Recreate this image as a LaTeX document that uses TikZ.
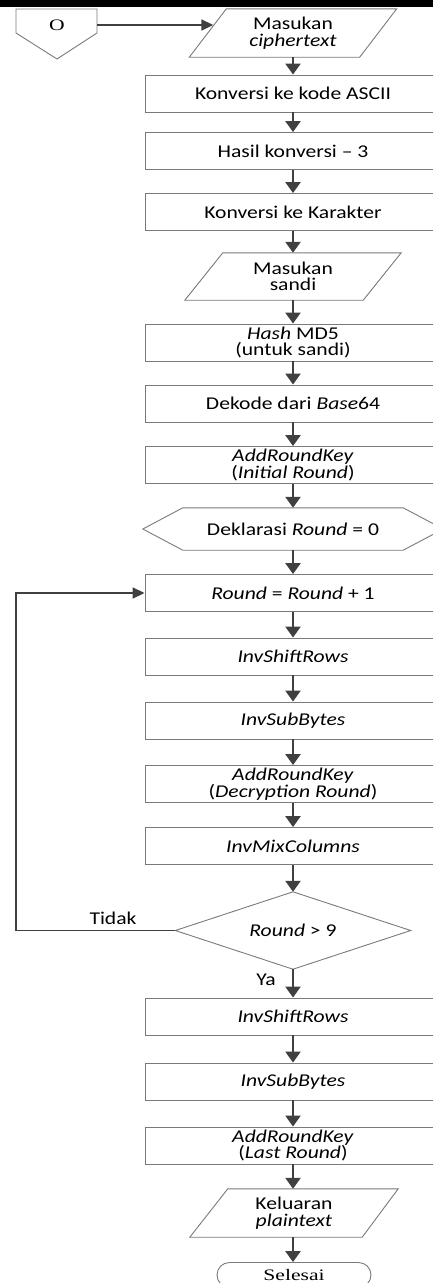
\documentclass[tikz,border=0pt]{standalone}
\usepackage{fontspec}
\setmainfont[FakeStretch=1.2]{Carlito}
\newfontfamily\tnrfont[FakeStretch=1.35]{Liberation Serif}
\usetikzlibrary{arrows.meta,shapes.misc}
\definecolor{bordc}{HTML}{7A7A7A}
\definecolor{arrc}{HTML}{404040}
\newcommand\figfont{\fontsize{18}{16.5}\selectfont}
\newcommand\serfont{\tnrfont\fontsize{16}{16}\selectfont}
\begin{document}
\begin{tikzpicture}[x=1pt,y=-1pt,
  box/.style={draw=bordc, line width=0.9pt, minimum width=296pt, minimum height=37pt, inner sep=0pt, align=center, font=\figfont, text=black},
  txt/.style={inner sep=0pt, align=center, font=\figfont, text=black},
  shp/.style={draw=bordc, line width=0.9pt},
  arr/.style={draw=arrc, line width=2.4pt, -{Triangle[width=15pt,length=11pt]}},
  thinarr/.style={draw=arrc, line width=1.7pt, -{Triangle[width=11pt,length=12pt]}},
]
\useasboundingbox (0,0) rectangle (433,1283);
\fill[black] (0,0) rectangle (433,7);

% off-page connector
\draw[shp] (16,9) -- (97,9) -- (97,33) -- (57,59) -- (16,33) -- cycle;
\node[inner sep=0pt, font=\serfont] (conn) at (57,25) {O};
\coordinate (connE) at (97,25);

% input ciphertext
\node[txt, minimum width=207pt, minimum height=48pt] (in1) at (293,33) {Masukan\\\textit{ciphertext}};
\draw[shp] (in1.south west) -- ([xshift=-37pt]in1.south east) -- (in1.north east) -- ([xshift=37pt]in1.north west) -- cycle;

\node[box] (b1) at (293,93.5) {Konversi ke kode ASCII};
\node[box] (b2) at (293,151) {Hasil konversi – 3};
\node[box] (b3) at (293,212) {Konversi ke Karakter};

\node[txt, minimum width=216pt, minimum height=47pt] (in2) at (293,276.5) {Masukan\\sandi};
\draw[shp] (in2.south west) -- ([xshift=-38pt]in2.south east) -- (in2.north east) -- ([xshift=38pt]in2.north west) -- cycle;

\node[box] (b4) at (293,342.5) {\textit{Hash} MD5\\(untuk sandi)};
\node[box] (b5) at (293,403.5) {Dekode dari \textit{Base}64};
\node[box] (b6) at (293,465) {\textit{AddRoundKey}\\(\textit{Initial Round})};

\node[txt, minimum width=300pt, minimum height=42pt] (hex) at (293,529) {Deklarasi \textit{Round} = 0};
\draw[shp] ([xshift=40pt]hex.north west) -- ([xshift=-40pt]hex.north east) -- (hex.east) -- ([xshift=-40pt]hex.south east) -- ([xshift=40pt]hex.south west) -- (hex.west) -- cycle;

\node[box] (b7) at (293,593) {\textit{Round} = \textit{Round} + 1};
\node[box] (b8) at (293,656.5) {\textit{InvShiftRows}};
\node[box] (b9) at (293,720.5) {\textit{InvSubBytes}};
\node[box] (b10) at (293,784) {\textit{AddRoundKey}\\(\textit{Decryption Round})};
\node[box] (b11) at (293,846) {\textit{InvMixColumns}};

\node[txt, minimum width=235pt, minimum height=77pt] (dia) at (293,930.5) {\textit{Round} > 9};
\draw[shp] (dia.north) -- (dia.east) -- (dia.south) -- (dia.west) -- cycle;

\node[box] (b12) at (293,1016.5) {\textit{InvShiftRows}};
\node[box] (b13) at (293,1081.5) {\textit{InvSubBytes}};
\node[box] (b14) at (293,1145.5) {\textit{AddRoundKey}\\(\textit{Last Round})};

\node[txt, minimum width=208pt, minimum height=48pt] (out) at (294,1213) {Keluaran\\\textit{plaintext}};
\draw[shp] (out.south west) -- ([xshift=-36pt]out.south east) -- (out.north east) -- ([xshift=38pt]out.north west) -- cycle;

\node[draw=bordc, line width=0.9pt, rounded rectangle, minimum width=154pt, minimum height=25pt, inner sep=0pt, font=\serfont] (end) at (294,1275) {Selesai};

% labels
\node[txt] (tidak) at (113,918) {Tidak};
\node[txt] (ya) at (266,980) {Ya};

% connectors
\draw[thinarr] (connE) -- ([xshift=24pt]in1.west |- connE);
\draw[arr] (in1.south) -- (b1.north);
\draw[arr] (b1) -- (b2);
\draw[arr] (b2) -- (b3);
\draw[arr] (b3.south) -- (in2.north);
\draw[arr] (in2.south) -- (b4.north);
\draw[arr] (b4) -- (b5);
\draw[arr] (b5) -- (b6);
\draw[arr] (b6.south) -- (hex.north);
\draw[arr] (hex.south) -- (b7.north);
\draw[arr] (b7) -- (b8);
\draw[arr] (b8) -- (b9);
\draw[arr] (b9) -- (b10);
\draw[arr] (b10) -- (b11);
\draw[arr] (b11.south) -- (dia.north);
\coordinate (lc) at (16,930.5);
\draw[thinarr] (dia.west) -- (lc) |- (b7.west);
\draw[arr] (dia.south) -- (b12.north);
\draw[arr] (b12) -- (b13);
\draw[arr] (b13) -- (b14);
\draw[arr] (b14.south) -- (b14.south |- out.north);
\draw[arr] (b14.south |- out.south) -- (b14.south |- end.north);
\end{tikzpicture}
\end{document}
